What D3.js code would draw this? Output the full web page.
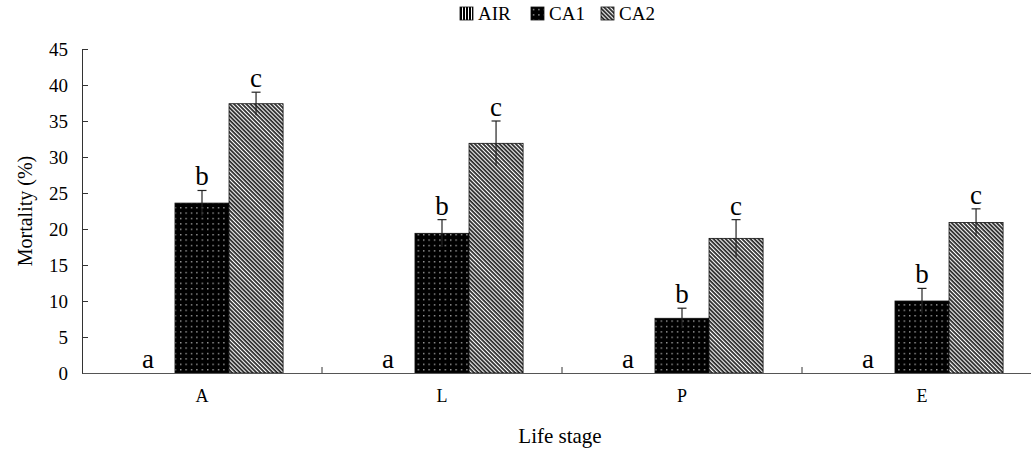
<!DOCTYPE html>
<html>
<head>
<meta charset="utf-8">
<script src="https://cdn.jsdelivr.net/npm/d3@7"></script>
<style>
  body { margin: 0; background: #fff; }
  svg { display: block; font-family: "Liberation Serif", "Times New Roman", serif; }
</style>
</head>
<body>
<div id="chart"></div>
<script>
"use strict"

// data
const stages = ["A", "L", "P", "E"];
const treatments = ["AIR", "CA1", "CA2"];
const airMean = [0, 0, 0, 0];
const ca1Mean = [23.6, 19.4, 7.6, 10.0];
const ca2Mean = [37.4, 31.9, 18.7, 20.9];
const airErr = [0, 0, 0, 0];
const ca1Err = [1.75, 1.9, 1.4, 1.75];
const ca2Err = [1.6, 3.1, 2.6, 1.9];
const letters = ["a", "b", "c"];
const yTicks = [0, 5, 10, 15, 20, 25, 30, 35, 40, 45];

window.addEventListener("load", drawChart);

function drawChart() {
  const width = 1031, height = 450;
  const margin = { top: 49, left: 82, bottom: 77 };
  const plotRight = 1042; // axis runs past the crop edge like the original
  const serif = "Liberation Serif, Times New Roman, serif";

  const svg = d3.select("#chart").append("svg")
    .attr("width", width)
    .attr("height", height);

  makePatterns(svg.append("defs"));

  const y = d3.scaleLinear()
    .domain([0, 45])
    .range([height - margin.bottom, margin.top]);

  const x0 = d3.scaleBand()
    .domain(stages)
    .range([margin.left, plotRight]);

  const x1 = d3.scaleBand()
    .domain(treatments)
    .range([0, x0.bandwidth()])
    .paddingOuter(0.72);

  const means = { AIR: airMean, CA1: ca1Mean, CA2: ca2Mean };
  const errs = { AIR: airErr, CA1: ca1Err, CA2: ca2Err };
  const fills = { AIR: "url(#pAir)", CA1: "url(#pCa1)", CA2: "url(#pCa2)" };

  let rows = [];
  stages.forEach((s, i) => {
    treatments.forEach((t, j) => {
      rows.push({ stage: s, trt: t, mean: means[t][i], err: errs[t][i], letter: letters[j] });
    });
  });

  // bars
  svg.append("g").selectAll("rect")
    .data(rows.filter(d => d.mean > 0))
    .enter()
    .append("rect")
      .attr("x", d => x0(d.stage) + x1(d.trt))
      .attr("y", d => y(d.mean))
      .attr("width", x1.bandwidth())
      .attr("height", d => y(0) - y(d.mean))
      .attr("fill", d => fills[d.trt])
      .attr("stroke", "#111")
      .attr("stroke-width", 0.8);

  // error bars
  let eb = svg.append("g")
    .attr("stroke", "#222")
    .attr("stroke-width", 1.2)
    .selectAll("g")
    .data(rows.filter(d => d.mean > 0))
    .enter()
    .append("g");
  eb.append("line")
    .attr("x1", d => x0(d.stage) + x1(d.trt) + x1.bandwidth() / 2)
    .attr("x2", d => x0(d.stage) + x1(d.trt) + x1.bandwidth() / 2)
    .attr("y1", d => y(d.mean + d.err))
    .attr("y2", d => y(d.mean - d.err));
  eb.append("line")
    .attr("x1", d => x0(d.stage) + x1(d.trt) + x1.bandwidth() / 2 - 4.5)
    .attr("x2", d => x0(d.stage) + x1(d.trt) + x1.bandwidth() / 2 + 4.5)
    .attr("y1", d => y(d.mean + d.err))
    .attr("y2", d => y(d.mean + d.err));

  // significance letters
  svg.append("g").selectAll("text")
    .data(rows)
    .enter()
    .append("text")
      .attr("x", d => x0(d.stage) + x1(d.trt) + x1.bandwidth() / 2)
      .attr("y", d => y(d.mean + d.err) - 5)
      .attr("text-anchor", "middle")
      .style("font-size", "27px")
      .text(d => d.letter);

  // y axis, ticks pointing inward
  let yAxis = svg.append("g")
    .attr("transform", `translate(${margin.left},0)`)
    .call(d3.axisLeft(y).tickValues(yTicks).tickSizeInner(-6).tickSizeOuter(0).tickPadding(14))
    .attr("font-family", serif);
  yAxis.selectAll("text").style("font-size", "19px").attr("fill", "#000");
  yAxis.selectAll("line, path").attr("stroke", "#333");

  // x axis labels at group centres
  let xAxis = svg.append("g")
    .attr("transform", `translate(0,${y(0)})`)
    .call(d3.axisBottom(x0).tickSize(0).tickPadding(16))
    .attr("font-family", serif);
  xAxis.selectAll("text").style("font-size", "18px").attr("fill", "#000");
  xAxis.select("path").attr("stroke", "#555");

  // group boundary ticks, pointing up
  svg.append("g").selectAll("line")
    .data(stages.slice(1))
    .enter()
    .append("line")
      .attr("x1", d => x0(d))
      .attr("x2", d => x0(d))
      .attr("y1", y(0))
      .attr("y2", y(0) - 6)
      .attr("stroke", "#333");

  // axis titles
  svg.append("text")
    .attr("transform", `translate(32,${(y(0) + y(45)) / 2}) rotate(-90)`)
    .attr("text-anchor", "middle")
    .style("font-size", "20px")
    .text("Mortality (%)");

  svg.append("text")
    .attr("x", 560)
    .attr("y", 443)
    .attr("text-anchor", "middle")
    .style("font-size", "21px")
    .text("Life stage");

  // legend
  const legendX = [460, 531, 601];
  let lg = svg.append("g").selectAll("g")
    .data(treatments)
    .enter()
    .append("g")
      .attr("transform", (d, i) => `translate(${legendX[i]},7)`);
  lg.append("rect")
    .attr("width", 13)
    .attr("height", 13)
    .attr("fill", d => fills[d])
    .attr("stroke", "#111")
    .attr("stroke-width", 0.8);
  lg.append("text")
    .attr("x", 18)
    .attr("y", 13)
    .style("font-size", "19px")
    .text(d => d);
}

function makePatterns(defs) {
  // AIR: vertical stripes
  let p1 = defs.append("pattern")
    .attr("id", "pAir")
    .attr("patternUnits", "userSpaceOnUse")
    .attr("width", 3).attr("height", 3);
  p1.append("rect").attr("width", 3).attr("height", 3).attr("fill", "#fff");
  p1.append("rect").attr("width", 2).attr("height", 3).attr("fill", "#000");

  // CA1: black with white dots
  let p2 = defs.append("pattern")
    .attr("id", "pCa1")
    .attr("patternUnits", "userSpaceOnUse")
    .attr("width", 5.4).attr("height", 5.4);
  p2.append("rect").attr("width", 5.4).attr("height", 5.4).attr("fill", "#000");
  p2.append("rect").attr("x", 2).attr("y", 2).attr("width", 1.1).attr("height", 1.1).attr("fill", "#fff");

  // CA2: dense diagonal stripes running top-left to bottom-right
  let p3 = defs.append("pattern")
    .attr("id", "pCa2")
    .attr("patternUnits", "userSpaceOnUse")
    .attr("width", 2.9).attr("height", 2.9)
    .attr("patternTransform", "rotate(45)");
  p3.append("rect").attr("width", 2.9).attr("height", 2.9).attr("fill", "#fff");
  p3.append("rect").attr("width", 2.9).attr("height", 1.8).attr("fill", "#2a2a2a");
}
</script>
</body>
</html>
